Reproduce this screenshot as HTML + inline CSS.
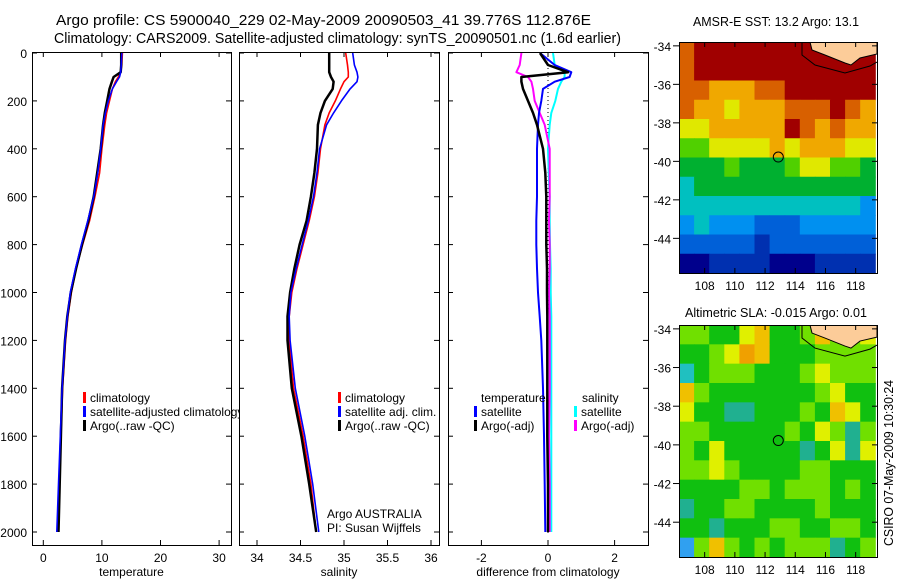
<!DOCTYPE html>
<html><head><meta charset="utf-8"><style>
html,body{margin:0;padding:0;background:#fff;}
svg{display:block;font-family:"Liberation Sans",sans-serif;}
</style></head><body>
<svg id="fig" width="900" height="580" viewBox="0 0 900 580" xmlns="http://www.w3.org/2000/svg">
<defs>
<clipPath id="c1"><rect x="32" y="52" width="208" height="494"/></clipPath>
<clipPath id="m1"><rect x="679" y="42" width="198" height="231"/></clipPath>
<clipPath id="m2"><rect x="679" y="325" width="198" height="232"/></clipPath>
</defs>
<text x="56" y="25" font-size="15" textLength="535" lengthAdjust="spacingAndGlyphs">Argo profile: CS 5900040_229 02-May-2009 20090503_41 39.776S 112.876E</text>
<text x="54" y="43" font-size="15" textLength="567" lengthAdjust="spacingAndGlyphs">Climatology: CARS2009. Satellite-adjusted climatology: synTS_20090501.nc (1.6d earlier)</text>
<g id="layer"></g>
<text x="693" y="26" font-size="13" textLength="166" lengthAdjust="spacingAndGlyphs">AMSR-E SST: 13.2 Argo: 13.1</text>
<text x="685" y="317" font-size="13" textLength="182" lengthAdjust="spacingAndGlyphs">Altimetric SLA: -0.015 Argo: 0.01</text>
<text transform="translate(893,546) rotate(-90)" font-size="13" textLength="166" lengthAdjust="spacingAndGlyphs">CSIRO 07-May-2009 10:30:24</text>
</svg>
<script>
// ---- profile data ----
const depths = [0,50,80,100,120,150,200,250,300,400,500,600,700,800,900,1000,1100,1200,1400,1600,1800,2000];
const climT = [13.5,13.4,13.2,12.8,12.3,11.8,11.3,10.8,10.5,10.0,9.6,8.8,7.9,6.7,5.6,4.8,4.2,3.8,3.3,3.0,2.8,2.6];
const satT  = [13.4,13.3,13.2,13.0,12.5,11.8,11.1,10.6,10.2,9.8,9.3,8.6,7.6,6.5,5.5,4.6,4.1,3.7,3.2,2.9,2.6,2.3];
const argoT = [13.3,13.3,13.2,12.0,11.7,11.3,10.9,10.5,10.2,9.8,9.2,8.6,7.7,6.6,5.6,4.7,4.1,3.7,3.2,3.0,2.8,2.6];
const climS = [35.02,35.04,35.05,35.05,35.0,34.96,34.9,34.83,34.78,34.73,34.7,34.66,34.6,34.53,34.46,34.4,34.37,34.37,34.42,34.53,34.62,34.68];
const satS  = [35.1,35.12,35.15,35.16,35.15,35.07,34.97,34.88,34.8,34.72,34.69,34.65,34.59,34.52,34.45,34.39,34.37,34.38,34.44,34.55,34.64,34.71];
const argoS = [34.83,34.83,34.83,34.85,34.88,34.87,34.78,34.73,34.7,34.69,34.66,34.62,34.57,34.49,34.43,34.38,34.35,34.35,34.4,34.51,34.6,34.68];
const satTd  = [-0.24,0.2,0.7,0.65,0.2,-0.15,-0.2,-0.27,-0.3,-0.33,-0.33,-0.33,-0.35,-0.35,-0.33,-0.3,-0.25,-0.2,-0.15,-0.12,-0.1,-0.08];
const argoTd = [-0.24,0.0,0.6,-0.8,-0.8,-0.75,-0.6,-0.45,-0.33,-0.15,-0.08,-0.05,-0.05,-0.05,-0.03,-0.03,-0.02,-0.02,-0.02,-0.02,0,0];
const satSd  = [0.15,0.2,0.5,0.5,0.4,0.3,0.22,0.1,0.05,0,0.02,0.05,0.05,0.06,0.08,0.08,0.1,0.1,0.1,0.1,0.1,0.1];
const argoSd = [-0.8,-0.85,-0.95,-0.6,-0.5,-0.45,-0.4,-0.25,-0.1,0.05,0.05,0.05,0.03,0.05,0.05,0.03,0.05,0.05,0.05,0.03,0.05,0.05];
const depthTicks = [0,200,400,600,800,1000,1200,1400,1600,1800,2000];
const tempTicks = [0,10,20,30];
const salTicks = [34,34.5,35,35.5,36];
const salTickLabels = ["34","34.5","35","35.5","36"];
const diffTicks = [-2,0,2];
// ---- map data ----
const lonTicks = [108,110,112,114,116,118];
const latTicks = [-34,-36,-38,-40,-42,-44];
const sstRows = ["9AAAAAAAAAAAA","9AAAAAAAAAAAA","9988899AAAAAA","9887888999A98","7788888A98988","6677778788877","5556555677665","4555555555555","4444444444443","3433322233333","2222212222222","0011110001111"];
const slaRows = ["4433563346445","3345763334444","1344433345444","6433333334533","5332233343653","4433333435424","4353333323525","4454333344333","3333443444343","2334433334333","3323334433443","0464343444234"];
const argoLon = 112.876, argoLat = -39.776;

const NS="http://www.w3.org/2000/svg";
const layer=document.getElementById('layer');
function mk(tag,attrs,parent){const e=document.createElementNS(NS,tag);for(const k in attrs)e.setAttribute(k,attrs[k]);(parent||layer).appendChild(e);return e;}
function txt(x,y,s,size,anchor,parent){const t=mk('text',{x:x,y:y,'font-size':size,'text-anchor':anchor||'start'},parent);t.textContent=s;return t;}

const yD=d=>53+d*(479/2000);
const PB=545;
const panels=[
 {x0:32,x1:231,f:v=>43.3+v*5.86,ticks:tempTicks,labels:tempTicks.map(String),xl:"temperature",name:"temperature-panel"},
 {x0:239,x1:439,f:v=>257+(v-34)*87,ticks:salTicks,labels:salTickLabels,xl:"salinity",name:"salinity-panel"},
 {x0:448,x1:648,f:v=>548+v*33.3,ticks:diffTicks,labels:diffTicks.map(String),xl:"difference from climatology",name:"difference-panel"}
];
panels.forEach((p,i)=>{
 const g=mk('g',{});
 
 
 const r=mk('rect',{x:p.x0+0.5,y:52.5,width:p.x1-p.x0,height:PB-52,fill:'none',stroke:'#000','stroke-width':1},g);
 
 
 p.ticks.forEach((t,j)=>{
  const x=p.f(t);
  mk('line',{x1:x,x2:x,y1:52,y2:57,stroke:'#000'},g);
  mk('line',{x1:x,x2:x,y1:PB,y2:PB-5,stroke:'#000'},g);
  const l=txt(x,562,p.labels[j],12,'middle',g);
  
  
 });
 depthTicks.forEach(d=>{
  const y=yD(d);
  mk('line',{x1:p.x0,x2:p.x0+5,y1:y,y2:y,stroke:'#000'},g);
  mk('line',{x1:p.x1,x2:p.x1-5,y1:y,y2:y,stroke:'#000'},g);
  if(i===0){const l=txt(27,y+5,String(d),12,'end',g);
   
   }
 });
 const xl=txt((p.x0+p.x1)/2,576,p.xl,12,'middle',g);
 
 
});
function series(p,vals,color,w,name){
 const pts=vals.map((v,k)=>p.f(v).toFixed(1)+','+yD(depths[k]).toFixed(1));
 const l=mk('polyline',{points:pts.join(' '),fill:'none',stroke:color,'stroke-width':w,'stroke-linejoin':'round'});
 
 
}
mk('line',{x1:548,x2:548,y1:60,y2:535,stroke:'#000','stroke-dasharray':'1,3','stroke-width':1});
series(panels[0],climT,'#f00',1.6,'temp-climatology-line');
series(panels[0],argoT,'#000',2.5,'temp-argo-line');
series(panels[0],satT,'#00f',1.6,'temp-satellite-line');
series(panels[1],climS,'#f00',1.6,'sal-climatology-line');
series(panels[1],argoS,'#000',2.5,'sal-argo-line');
series(panels[1],satS,'#00f',1.6,'sal-satellite-line');
series(panels[2],satSd,'#0ff',2,'sal-satellite-diff-line');
series(panels[2],argoSd,'#f0f',2,'sal-argo-diff-line');
series(panels[2],satTd,'#00f',2,'temp-satellite-diff-line');
series(panels[2],argoTd,'#000',2.5,'temp-argo-diff-line');

function legend(x,y,color,label,clip){
 const g=mk('g',clip?{'clip-path':'url(#c1)'}:{});
 
 
 mk('rect',{x:x,y:y-10,width:3,height:11,fill:color},g);
 txt(x+7,y,label,12,'start',g);
}
legend(83,402,'#f00','climatology');
legend(83,416,'#00f','satellite-adjusted climatology',true);
legend(83,430,'#000','Argo(..raw -QC)');
legend(338,402,'#f00','climatology');
legend(338,416,'#00f','satellite adj. clim.');
legend(338,430,'#000','Argo(..raw -QC)');
txt(481,402,'temperature',12);
txt(582,402,'salinity',12);
legend(474,416,'#00f','satellite');
legend(474,430,'#000','Argo(-adj)');
legend(574,416,'#0ff','satellite');
legend(574,430,'#f0f','Argo(-adj)');
const a1=txt(327,518,'Argo AUSTRALIA',12);


const a2=txt(327,532,'PI: Susan Wijffels',12);



// ---- maps ----
const sstCols={'0':'#00008c','1':'#0030b0','2':'#0060d8','3':'#0090f0','4':'#00c0c0','5':'#00b030','6':'#50d000','7':'#e0e800','8':'#f0a800','9':'#d86000','A':'#a00000'};
const slaCols={'0':'#30a0f0','1':'#20c0c0','2':'#20b090','3':'#10c010','4':'#70e000','5':'#e0f000','6':'#f0c000','7':'#f0a000'};
function drawMap(top,bot,rows,cols,clip,name){
 const lonX=lon=>679+(lon-106.3)*15.1;
 const latY=lat=>top+(-33.8-lat)*((bot-top)/12);
 const g=mk('g',{'clip-path':'url(#'+clip+')'});
 
 
 rows.forEach((row,r)=>{
  row.split('').forEach((c,k)=>{
   const x=lonX(106.3+k),y=latY(-33.8-r);
   const cell=mk('rect',{x:x,y:y,width:15.6,height:(bot-top)/12+0.6,fill:cols[c]},g);
   
   
  });
 });
 const s=(bot-top)/231;
 const oy=v=>top+(v-42)*s;
 mk('polyline',{points:`802,${oy(42)} 802,${oy(55)} 815,${oy(65)} 845,${oy(73)} 870,${oy(66)} 877,${oy(62)}`,fill:'none',stroke:'#000','stroke-width':1},g);
 const land=mk('polygon',{points:`810,${oy(42)} 812,${oy(50)} 825,${oy(55)} 845,${oy(63)} 851,${oy(65)} 860,${oy(58)} 877,${oy(54)} 877,${oy(42)}`,fill:'#fccc99',stroke:'#000','stroke-width':1},g);
 
 
 const c=mk('circle',{cx:lonX(argoLon),cy:latY(argoLat),r:5,fill:'none',stroke:'#000','stroke-width':1});
 
 
 mk('rect',{x:679.5,y:top+0.5,width:198,height:bot-top,fill:'none',stroke:'#000','stroke-width':1});
 lonTicks.forEach(l=>{const x=lonX(l);
  mk('line',{x1:x,x2:x,y1:top,y2:top+5,stroke:'#000'});
  mk('line',{x1:x,x2:x,y1:bot,y2:bot-5,stroke:'#000'});
  const t=txt(x,bot+17,String(l),12,'middle');
  
  });
 latTicks.forEach(l=>{const y=latY(l);
  mk('line',{x1:673,x2:679,y1:y,y2:y,stroke:'#000'});
  mk('line',{x1:877,x2:872,y1:y,y2:y,stroke:'#000'});
  const t=txt(671,y+5,String(l),12,'end');
  
  });
}
drawMap(42,273,sstRows,sstCols,'m1','sst-map');
drawMap(325,557,slaRows,slaCols,'m2','sla-map');
</script>
</body></html>
